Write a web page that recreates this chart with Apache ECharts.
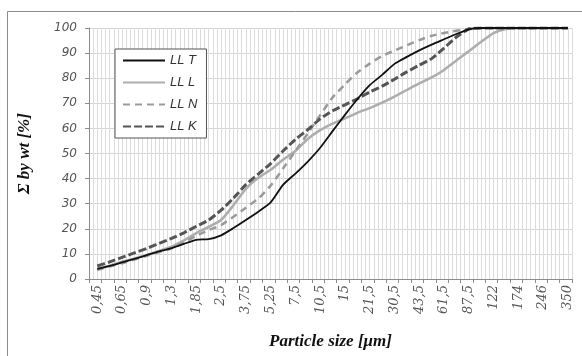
<!DOCTYPE html>
<html>
<head>
<meta charset="utf-8">
<script src="https://cdn.jsdelivr.net/npm/echarts@6/dist/echarts.min.js"></script>
<style>
html, body { margin: 0; padding: 0; background: #fff; }
#main-chart { width: 582px; height: 356px; }
</style>
</head>
<body>
<div id="main-chart"></div>
<script>
// tick labels of the size axis (µm)
var sizeLabels = ['0,45', '0,65', '0,9', '1,3', '1,85', '2,5', '3,75', '5,25', '7,5', '10,5',
	'15', '21,5', '30,5', '43,5', '61,5', '87,5', '122', '174', '246', '350'];

// cumulative % read at every label and half way between labels
var llT = [4.0, 5.2, 6.6, 8.0, 9.5, 11.0, 12.3, 14.0, 15.6, 15.9, 17.4, 20.3, 23.5, 26.8, 30.5, 37.5, 42.0, 46.8, 52.3, 58.9,
	65.4, 71.6, 77.2, 81.3, 85.7, 88.5, 91.1, 93.4, 95.5, 97.6, 99.5, 100, 100, 100, 100, 100, 100, 100, 100];
var llL = [4.0, 5.3, 6.9, 8.2, 9.6, 11.2, 12.9, 15.4, 18.3, 20.8, 23.5, 29.4, 35.9, 40.3, 43.5, 47.5, 51.0, 55.8, 59.3, 61.9,
	64.0, 66.2, 68.1, 70.3, 72.7, 75.3, 77.9, 80.3, 83.3, 87.1, 90.7, 94.5, 98.0, 99.6, 100, 100, 100, 100, 100];
var llN = [3.6, 5.0, 6.3, 7.7, 9.2, 10.7, 12.2, 14.5, 17.2, 19.5, 21.5, 24.8, 28.4, 32.0, 37.2, 44.0, 51.0, 58.0, 65.3, 72.3,
	77.5, 82.3, 85.8, 88.8, 91.0, 93.1, 95.2, 96.9, 98.0, 98.9, 99.6, 100, 100, 100, 100, 100, 100, 100, 100];
var llK = [5.2, 6.8, 8.6, 10.4, 12.2, 14.2, 16.2, 18.4, 21.0, 23.5, 27.4, 32.2, 37.6, 41.8, 46.0, 51.0, 55.6, 59.5, 63.8, 67.0,
	69.4, 71.8, 74.5, 76.8, 79.6, 82.5, 85.2, 87.8, 92.0, 96.4, 99.6, 100, 100, 100, 100, 100, 100, 100, 100];

// the axis is split in fine size classes: 6 per label, first label on class 2
var classCount = 118;
var categories = [];
for (var i = 0; i < classCount; i++) {
	categories.push('');
}
for (var k = 0; k < sizeLabels.length; k++) {
	categories[2 + 6 * k] = sizeLabels[k];
}

function toPoints(values) {
	var data = [];
	for (var j = 0; j < values.length; j++) {
		data.push([2 + 3 * j, values[j]]);
	}
	return data;
}

var myChart = echarts.init(document.getElementById('main-chart'));

var option = {
	backgroundColor: '#fff',
	animation: false,
	graphic: [{
		type: 'rect',
		shape: { x: 7.5, y: 11.5, width: 700, height: 700 },
		style: { fill: 'none', stroke: '#8c8c8c', lineWidth: 1 },
		silent: true,
		z: -1
	}],
	grid: {
		left: 89,
		right: 10,
		top: 28,
		bottom: 77
	},
	legend: {
		orient: 'vertical',
		left: 115,
		top: 49,
		padding: [5, 9, 5, 7],
		itemWidth: 42,
		itemHeight: 14,
		itemGap: 9,
		backgroundColor: '#fff',
		borderColor: '#555',
		borderWidth: 1,
		// only the line sample, no marker in the middle
		itemStyle: { opacity: 0 },
		textStyle: {
			fontFamily: 'Liberation Sans',
			fontStyle: 'italic',
			fontSize: 13,
			color: '#333'
		},
		data: ['LL T', 'LL L', 'LL N', 'LL K']
	},
	xAxis: {
		type: 'category',
		boundaryGap: false,
		data: categories,
		name: 'Particle size [μm]',
		nameLocation: 'middle',
		nameGap: 54,
		nameTextStyle: {
			fontFamily: 'Liberation Serif',
			fontStyle: 'italic',
			fontWeight: 'bold',
			fontSize: 17,
			color: '#111'
		},
		axisLine: { lineStyle: { color: '#8c8c8c', width: 1 } },
		axisTick: {
			interval: function (index) { return index % 3 === 0; },
			length: 4,
			lineStyle: { color: '#8c8c8c' }
		},
		axisLabel: {
			interval: 0,
			rotate: 90,
			margin: 6,
			fontFamily: 'DejaVu Serif',
			fontStyle: 'italic',
			fontSize: 13,
			color: '#555'
		},
		splitLine: {
			show: true,
			interval: 0,
			lineStyle: { color: '#dcdcdc', width: 1 }
		}
	},
	yAxis: {
		type: 'value',
		min: 0,
		max: 100,
		interval: 10,
		name: 'Σ by wt [%]',
		nameLocation: 'middle',
		nameGap: 56,
		nameTextStyle: {
			fontFamily: 'Liberation Serif',
			fontStyle: 'italic',
			fontWeight: 'bold',
			fontSize: 17,
			color: '#111'
		},
		axisLine: { show: true, lineStyle: { color: '#8c8c8c', width: 1 } },
		axisTick: { show: true, length: 4, lineStyle: { color: '#8c8c8c' } },
		axisLabel: {
			margin: 12,
			fontFamily: 'DejaVu Sans',
			fontStyle: 'italic',
			fontSize: 12,
			color: '#555'
		},
		splitLine: { lineStyle: { color: '#d4d4d4', width: 1 } }
	},
	series: [{
		name: 'LL T',
		type: 'line',
		smooth: 0.2,
		symbol: 'none',
		data: toPoints(llT),
		lineStyle: { color: '#111', width: 1.8 },
		itemStyle: { color: '#111' },
		z: 5
	}, {
		name: 'LL L',
		type: 'line',
		smooth: 0.2,
		symbol: 'none',
		data: toPoints(llL),
		lineStyle: { color: '#adadad', width: 2.5 },
		itemStyle: { color: '#adadad' },
		z: 3
	}, {
		name: 'LL N',
		type: 'line',
		smooth: 0.2,
		symbol: 'none',
		data: toPoints(llN),
		lineStyle: { color: '#9a9a9a', width: 2.5, type: [7, 5] },
		itemStyle: { color: '#9a9a9a' },
		z: 3
	}, {
		name: 'LL K',
		type: 'line',
		smooth: 0.2,
		symbol: 'none',
		data: toPoints(llK),
		lineStyle: { color: '#555', width: 3, type: [8, 3] },
		itemStyle: { color: '#555' },
		z: 4
	}]
};

myChart.setOption(option);
</script>
</body>
</html>
